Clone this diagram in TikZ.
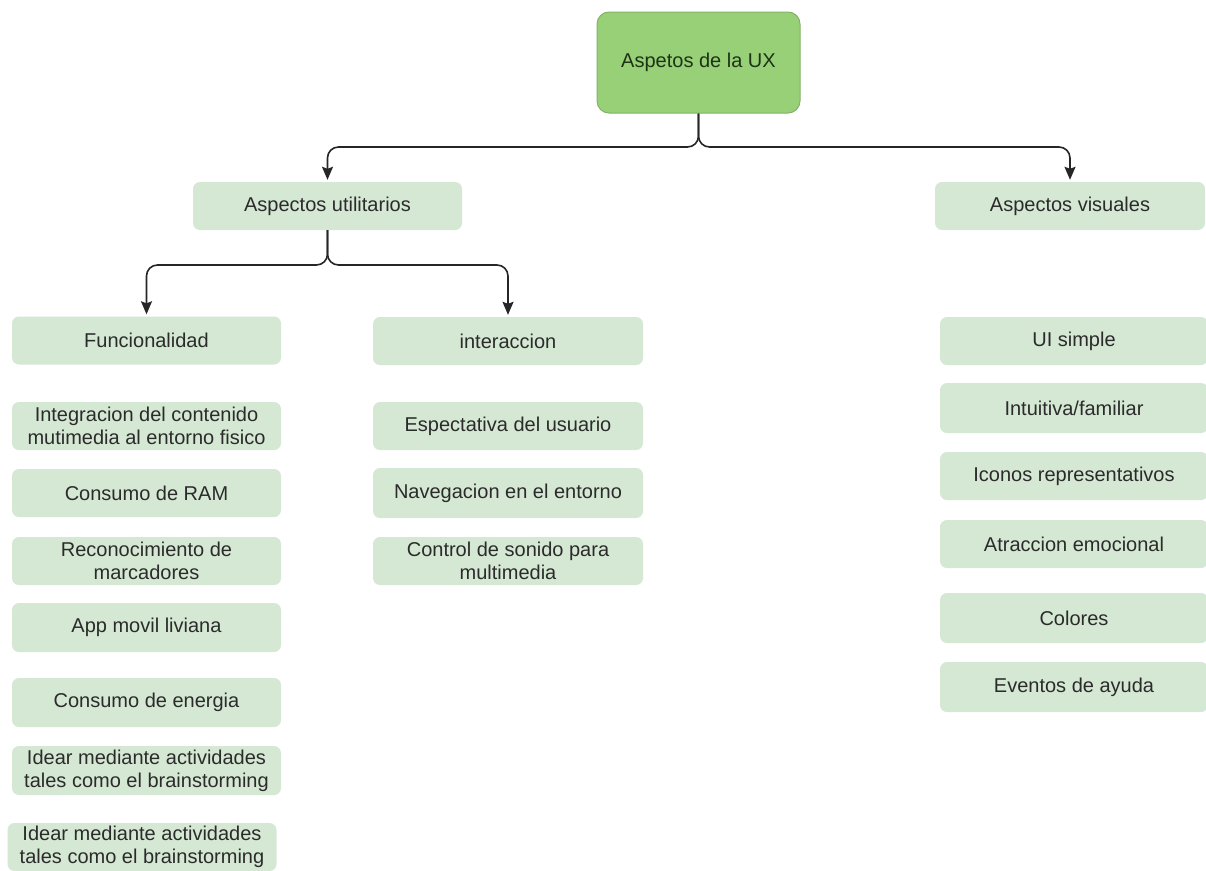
\documentclass[tikz,border=0pt]{standalone}
\usepackage{fontspec}
\setmainfont{Liberation Sans}
\usetikzlibrary{arrows.meta}
\definecolor{rootfill}{HTML}{97D077}
\definecolor{rootline}{HTML}{82B366}
\definecolor{boxfill}{HTML}{D5E8D4}
\definecolor{txt}{HTML}{2B2B2B}
\definecolor{roottxt}{HTML}{1E3316}
\begin{document}
\begin{tikzpicture}[x=1pt,y=-1pt,
  every node/.style={font=\fontsize{20}{23}\selectfont, align=center, inner sep=0pt},
  rootbox/.style={draw=rootline, line width=1pt, fill=rootfill, rounded corners=12pt,
    minimum width=203pt, minimum height=101pt, text=roottxt},
  item/.style={fill=boxfill, rounded corners=7pt, minimum width=269pt,
    minimum height=48pt, text=txt},
  link/.style={draw=black!85, line width=1.6pt, rounded corners=11pt,
    -{Stealth[length=13pt,width=11pt,inset=2pt]}, shorten >=2pt}]
\clip (0,0) rectangle (1206,870);
\fill[white] (0,0) rectangle (1206,870);

% root
\node[rootbox] (root) at (698.5,62.5) {Aspetos de la UX};

% second level
\node[item] (util) at (327.5,206) {Aspectos utilitarios};
\node[item, minimum width=270pt] (vis) at (1070,206) {Aspectos visuales};

% third level
\node[item] (func) at (146.5,340.5) {Funcionalidad};
\node[item, minimum width=270pt] (inter) at (508,341) {interaccion};

% functionality items
\node[item] (integ) at (146.5,426) {Integracion del contenido\\mutimedia al entorno fisico};
\node[item] (ram) at (146.5,493) {Consumo de RAM};
\node[item] (recon) at (146.5,561) {Reconocimiento de\\marcadores};
\node[item, minimum height=49pt] (app) at (146.5,627.5) {App movil liviana};
\node[item, minimum height=49pt] (energ) at (146.5,702.5) {Consumo de energia};
\node[item, minimum height=49pt] (idea) at (146.5,770.5) {Idear mediante actividades\\tales como el brainstorming};
\node[item] (ideb) at (142,847) {Idear mediante actividades\\tales como el brainstorming};

% interaction items
\node[item, minimum width=270pt] (esp) at (508,426) {Espectativa del usuario};
\node[item, minimum width=270pt, minimum height=50pt] (nav) at (508,493) {Navegacion en el entorno};
\node[item, minimum width=270pt] (ctrl) at (508,561) {Control de sonido para\\multimedia};

% visual items
\node[item, minimum width=268pt] (ui) at (1074,341) {UI simple};
\node[item, minimum width=268pt, minimum height=50pt] (intu) at (1074,408) {Intuitiva/familiar};
\node[item, minimum width=268pt] (icon) at (1074,476) {Iconos representativos};
\node[item, minimum width=268pt] (atr) at (1074,544) {Atraccion emocional};
\node[item, minimum width=268pt, minimum height=50pt] (col) at (1074,618) {Colores};
\node[item, minimum width=268pt, minimum height=50pt] (ev) at (1074,687) {Eventos de ayuda};

% connectors
\draw[link] (root.south) -- (root.south |- 0,147) -- (util.north |- 0,147) -- (util.north);
\draw[link] (root.south) -- (root.south |- 0,147) -- (vis.north |- 0,147) -- (vis.north);
\draw[link] (util.south) -- (util.south |- 0,265) -- (func.north |- 0,265) -- (func.north);
\draw[link] (util.south) -- (util.south |- 0,265) -- (inter.north |- 0,265) -- (inter.north);
\end{tikzpicture}
\end{document}
